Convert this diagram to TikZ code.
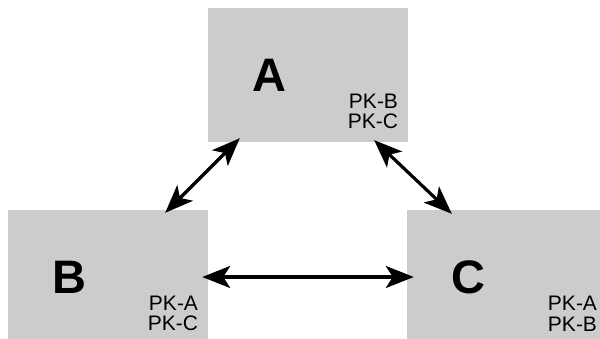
\documentclass[tikz,border=0pt]{standalone}
\usepackage{fontspec}
\setmainfont{Liberation Sans}
\usetikzlibrary{arrows.meta,calc}
\definecolor{boxgray}{HTML}{CCCCCC}
\tikzset{
  tbl/.style={fill=boxgray, draw=none, minimum width=200pt, minimum height=134pt, inner sep=0pt},
  big/.style={font=\fontsize{47pt}{50pt}\selectfont\bfseries, inner sep=0pt},
  keys/.style={font=\fontsize{21pt}{20.5pt}\selectfont, align=right, inner sep=0pt, anchor=south east},
  link/.style={line width=3.2pt, {Stealth[length=28pt,width=22pt,inset=7pt]}-{Stealth[length=28pt,width=22pt,inset=7pt]}}
}
\begin{document}
\begin{tikzpicture}[x=1pt,y=1pt]
\useasboundingbox (0,0) rectangle (600,-338);
\node[tbl] (A) at (308,-75) {};
\node[tbl] (B) at (108,-277) {};
\node[tbl] (C) at (507,-277) {};
\node[big] (la) at ([xshift=-39pt]A.center) {A};
\node[big] (lb) at ([xshift=-39pt]B.center) {B};
\node[big] (lc) at ([xshift=-39pt]C.center) {C};
\node[keys] (ka) at ($(A.south east)+(-10,13)$) {PK-B\\PK-C};
\node[keys] (kb) at ($(B.south east)+(-10,13)$) {PK-A\\PK-C};
\node[keys] (kc) at ($(C.south east)+(-10,13)$) {PK-A\\PK-B};
\draw[link] ($(A.south west)+(32,4)$) -- ($(B.north east)+(-43,-3)$);
\draw[link] ($(A.south east)+(-34,2)$) -- ($(C.north west)+(45,-4)$);
\draw[link] ($(B.east)+(-6,0)$) -- ($(C.west)+(7,0)$);
\end{tikzpicture}
\end{document}
